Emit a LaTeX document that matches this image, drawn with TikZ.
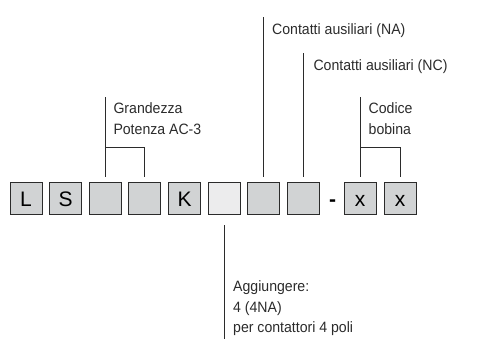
\documentclass[tikz,border=0pt]{standalone}
\usepackage{fontspec}
\setmainfont{Liberation Sans}
\newfontfamily\lblfont[FakeStretch=0.94]{Liberation Sans}
\definecolor{boxgrey}{HTML}{D1D3D4}
\definecolor{boxlight}{HTML}{ECECED}
\definecolor{ink}{HTML}{2B2B2B}
\tikzset{
    cell/.style={draw=ink, line width=1pt, minimum size=32pt, inner sep=0pt,
        text height=15pt, text depth=0pt, font=\fontsize{21}{21}\selectfont},
    lead/.style={draw=ink, line width=1pt},
    lbl/.style={anchor=base west, inner sep=0pt, align=left, text=ink,
        font=\lblfont\fontsize{15}{20.5}\selectfont}
}
\begin{document}
\begin{tikzpicture}[x=1pt, y=-1pt]
    \useasboundingbox (0,0) rectangle (492,348);

    % Code boxes
    \foreach \i/\t/\c in {1/L/boxgrey, 2/S/boxgrey, 3//boxgrey, 4//boxgrey,
                          5/K/boxgrey, 6//boxlight, 7//boxgrey, 8//boxgrey} {
        \node[cell, fill=\c] (b\i) at ({26+39.65*(\i-1)}, 198.5) {\t};
    }
    \node[inner sep=0pt, text height=15pt, text depth=0pt,
          font=\fontsize{21}{21}\bfseries] (dash) at (332.5,198.5) {-};
    \node[cell, fill=boxgrey] (x1) at (360,198.5) {x};
    \node[cell, fill=boxgrey] (x2) at (400,198.5) {x};

    % Leads above
    \draw[lead, shorten >=5pt] (b3.north |- 0,97) -- (b3.north);
    \draw[lead, shorten >=5pt] (b3.north |- 0,147) -- (b4.north |- 0,147) -- (b4.north);
    \draw[lead, shorten >=5pt] (b7.north |- 0,17) -- (b7.north);
    \draw[lead, shorten >=5pt] (b8.north |- 0,53) -- (b8.north);
    \draw[lead, shorten >=5pt] (x1.north |- 0,97) -- (x1.north);
    \draw[lead, shorten >=5pt] (x1.north |- 0,147) -- (x2.north |- 0,147) -- (x2.north);

    % Lead below
    \draw[lead, shorten <=10pt] (b6.south) -- (b6.south |- 0,339);

    % Labels (base = last line)
    \node[lbl] (grand) at (113.3,134) {Grandezza\\Potenza AC-3};
    \node[lbl] (ausna) at (272,34) {Contatti ausiliari (NA)};
    \node[lbl] (ausnc) at (313.3,70) {Contatti ausiliari (NC)};
    \node[lbl] (bobina) at (368.5,134) {Codice\\bobina};
    \node[lbl] (aggiungi) at (233,332.5) {Aggiungere:\\4 (4NA)\\per contattori 4 poli};
\end{tikzpicture}
\end{document}
